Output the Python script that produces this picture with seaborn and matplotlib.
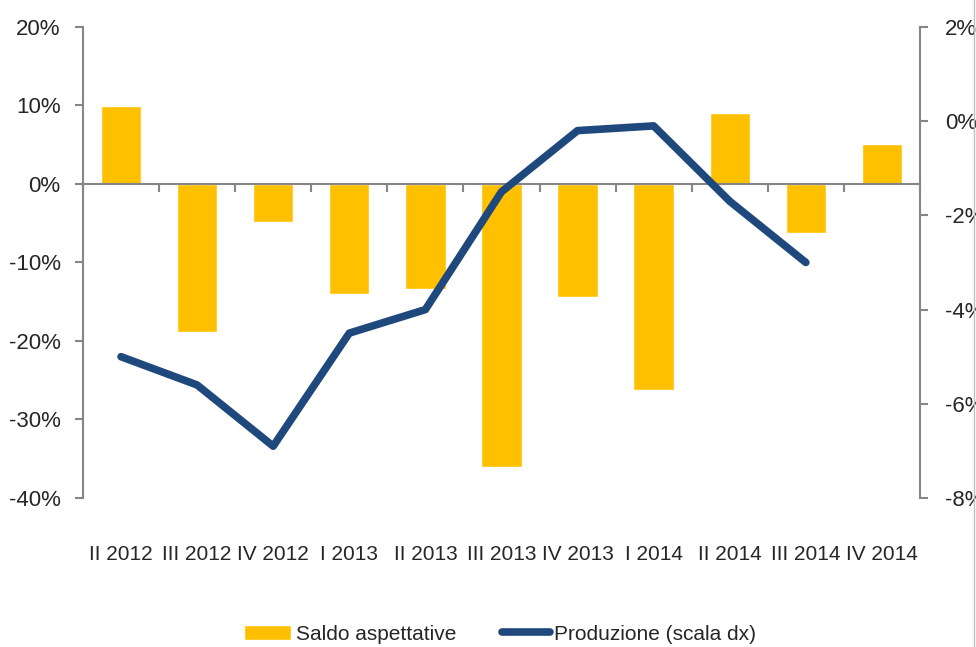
import numpy as np
import pandas as pd
import matplotlib
matplotlib.use("Agg")
import matplotlib.pyplot as plt
from matplotlib.ticker import FuncFormatter, FixedLocator
from matplotlib.lines import Line2D
import seaborn as sns

# data
quarters = ["II 2012", "III 2012", "IV 2012", "I 2013", "II 2013", "III 2013",
            "IV 2013", "I 2014", "II 2014", "III 2014", "IV 2014"]
saldo = [9.9, -18.8, -4.8, -14.0, -13.4, -36.0, -14.4, -26.2, 9.0, -6.2, 5.1]
produzione = [-5.0, -5.6, -6.9, -4.5, -4.0, -1.5, -0.2, -0.1, -1.7, -3.0, np.nan]
left_ticks = [-40, -30, -20, -10, 0, 10, 20]
right_ticks = [-8, -6, -4, -2, 0, 2]

BAR = "#FFC000"
LINE = "#1F497D"
GREY = "#868686"

sns.set_theme(style="white")
plt.rcParams["font.family"] = ["Liberation Sans", "DejaVu Sans"]
plt.rcParams["axes.unicode_minus"] = False
FS = 15

df = pd.DataFrame({"quarter": quarters, "saldo": saldo,
                   "pos": np.arange(len(quarters)), "prod": produzione})

fig = plt.figure(figsize=(9.76, 6.47), dpi=100)
ax = fig.add_axes([0.085, 0.2303, 0.8576, 0.7280])

sns.barplot(data=df, x="quarter", y="saldo", color=BAR, saturation=1,
            width=0.53, ax=ax, label="Saldo aspettative")
ax.set_xlim(-0.5, len(quarters) - 0.5)
ax.set_ylim(-40, 20)
ax.yaxis.set_major_locator(FixedLocator(left_ticks))
ax.yaxis.set_major_formatter(FuncFormatter(lambda v, p: f"{v:.0f}%"))
ax.set_xlabel("")
ax.set_ylabel("")

# zero line with category separators
ax.spines["bottom"].set_position(("data", 0))
ax.set_xticks(np.arange(len(quarters) + 1) - 0.5, minor=True)
ax.tick_params(axis="x", which="major", length=0, labelbottom=False)
ax.tick_params(axis="x", which="minor", bottom=True, direction="out",
               length=6, width=1.5, color=GREY)
ax.tick_params(axis="y", left=True, direction="out", length=6, width=1.5,
               color=GREY, labelsize=FS + 1, pad=10)
for s in ["top", "right"]:
    ax.spines[s].set_visible(False)
for s in ["left", "bottom"]:
    ax.spines[s].set_color(GREY)
    ax.spines[s].set_linewidth(1.5)

# right axis: production
ax2 = ax.twinx()
sns.lineplot(data=df, x="pos", y="prod", color=LINE, linewidth=5.5, ax=ax2,
             label="Produzione (scala dx)", solid_capstyle="round")
ax2.set_ylim(-8, 2)
ax2.yaxis.set_major_locator(FixedLocator(right_ticks))
ax2.yaxis.set_major_formatter(FuncFormatter(lambda v, p: f"{v:.0f}%"))
ax2.set_ylabel("")
ax2.set_xlabel("")
ax2.tick_params(axis="y", right=True, direction="out", length=6, width=1.5,
                color=GREY, labelsize=FS + 1, pad=12)

# category labels below the plot area
ax2.xaxis.set_visible(True)
ax2.set_xticks(np.arange(len(quarters)))
ax2.set_xticklabels(quarters)
ax2.tick_params(axis="x", which="major", bottom=True, length=0,
                labelbottom=True, labelsize=FS, pad=34)
ax2.tick_params(axis="x", which="minor", length=0)
for s in ["top", "left", "bottom"]:
    ax2.spines[s].set_visible(False)
ax2.spines["right"].set_color(GREY)
ax2.spines["right"].set_linewidth(1.5)
ax2.set_xlim(-0.5, len(quarters) - 0.5)

# legend at the bottom
handles = [ax.patches[0], Line2D([], [], color=LINE, linewidth=5.5,
                                 solid_capstyle="round")]
for a in (ax, ax2):
    if a.get_legend() is not None:
        a.get_legend().remove()
fig.legend(handles, ["Saldo aspettative", "Produzione (scala dx)"],
           loc="center", bbox_to_anchor=(0.512, 0.02), ncol=2, frameon=False,
           fontsize=FS, handlelength=2.3, columnspacing=2.2,
           handletextpad=0.2)

# thin border on the right edge of the chart area
fig.add_artist(Line2D([0.998, 0.998], [0, 1], transform=fig.transFigure,
                      color="#BFBFBF", linewidth=1))

fig.savefig("out.png", dpi=100)
